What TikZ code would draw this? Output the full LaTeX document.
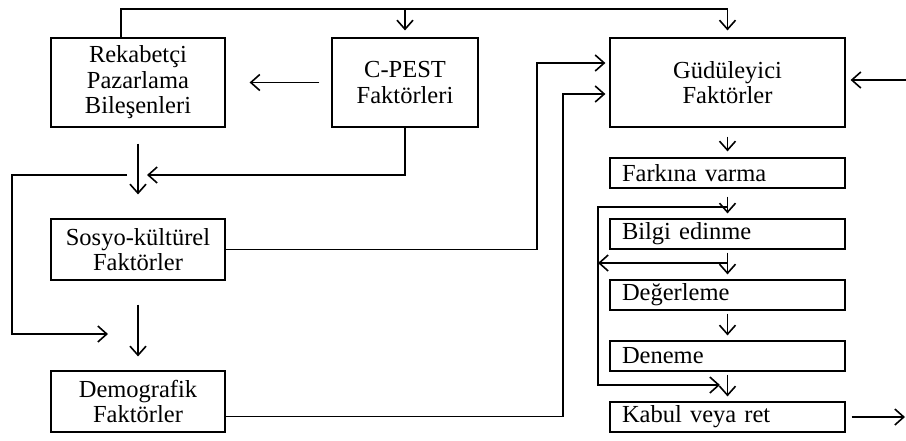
\documentclass[tikz,border=0pt]{standalone}
\usepackage{fontspec}
\setmainfont{Liberation Serif}
\usetikzlibrary{arrows.meta}
\newcommand{\boxfont}{\fontsize{24.5}{25.5}\selectfont}

\begin{document}
\begin{tikzpicture}[x=1pt,y=-1pt]
                \useasboundingbox (0,0) rectangle (906,440);
                \begin{scope}[every node/.style={rectangle,draw,line width=1.2pt,align=center,font=\boxfont,inner sep=2pt}]
                    \node[minimum width=174pt,minimum height=89pt] (reka) at (138,82.5) {Rekabetçi\\Pazarlama\\Bileşenleri};
                    \node[minimum width=146pt,minimum height=89pt] (cpest) at (405,82.5) {C-PEST\\Faktörleri};
                    \node[minimum width=235pt,minimum height=89pt] (gudu) at (727.5,82.5) {Güdüleyici\\Faktörler};
                    \node[minimum width=174pt,minimum height=61pt] (sosyo) at (138,249.5) {Sosyo-kültürel\\Faktörler};
                    \node[minimum width=174pt,minimum height=61pt] (demo) at (138,401.5) {Demografik\\Faktörler};
                \end{scope}

                \begin{scope}[every node/.style={rectangle,draw,line width=1.2pt,align=left,font=\boxfont,
                    inner xsep=12pt,inner ysep=1pt,text width=211pt,minimum height=30pt}]
                    \node (fark) at (727.5,173) {Farkına varma};
                    \node (bilgi) at (727.5,234) {Bilgi edinme};
                    \node (deger) at (727.5,295) {Değerleme};
                    \node (deneme) at (727.5,356) {Deneme};
                    \node (kabul) at (727.5,417) {Kabul veya ret};
                \end{scope}

                % bends of the connectors
                \coordinate (topL) at (121,9);
                \coordinate (topR) at (727.5,9);
                \coordinate (cpjoin) at (147,175);
                \coordinate (lpA) at (127,175);
                \coordinate (lpB) at (12,334);
                \coordinate (lpC) at (108,334);
                \coordinate (sgup) at (537,63);
                \coordinate (dgup) at (563,94);
                \coordinate (inR) at (906,80);
                \coordinate (outR) at (905,417);
                \coordinate (fbA) at (727.5,207);
                \coordinate (bdA) at (727.5,263);
                \coordinate (lpD) at (598,385);
                \coordinate (lpE) at (720,385);

                \begin{scope}[>={Straight Barb[length=9pt,width=16pt,line width=1.6pt]},
                    every edge/.style={draw=black,line width=1.2pt},line width=1.2pt]
                    \draw (reka.north -| topL) -- (topL) -- (topR);
                    \path [->,shorten >=7pt] (topR) edge (gudu.north);
                    \path [->,shorten >=7pt] (cpest.north |- topL) edge (cpest.north);
                    \path [->,shorten <=12pt,shorten >=24pt] (cpest.west) edge (reka.east);

                    \path [->,shorten <=16pt,shorten >=24pt] (reka.south) edge (sosyo.north);
                    \draw [->] (cpest.south) |- (cpjoin);
                    \draw [->] (lpA) -| (lpB) -- (lpC);
                    \path [->,shorten <=24pt,shorten >=14pt] (sosyo.south) edge (demo.north);

                    \draw [->,shorten >=4pt] (sosyo.east) -| (sgup) -- (sgup -| gudu.west);
                    \draw [->,shorten >=4pt] ([yshift=-15pt]demo.east) -| (dgup) -- (dgup -| gudu.west);
                    \path [->,shorten >=5pt] (inR) edge (inR -| gudu.east);

                    \path [->,shorten <=9pt,shorten >=6pt] (gudu.south) edge (fark.north);
                    \path [->,shorten <=8pt,shorten >=5pt] (fark.south) edge (bilgi.north);
                    \path [->,shorten <=3pt,shorten >=5pt] (bilgi.south) edge (deger.north);
                    \path [->,shorten <=3pt,shorten >=5pt] (deger.south) edge (deneme.north);
                    \path [->,shorten <=3pt,shorten >=5pt] (deneme.south) edge (kabul.north);

                    \draw [->] (fbA) -| (lpD) -- (lpE);
                    \path [->] (bdA) edge (bdA -| lpD);
                    \path [->,shorten <=6pt] (kabul.east) edge (outR);
                \end{scope}
            \end{tikzpicture}
\end{document}
